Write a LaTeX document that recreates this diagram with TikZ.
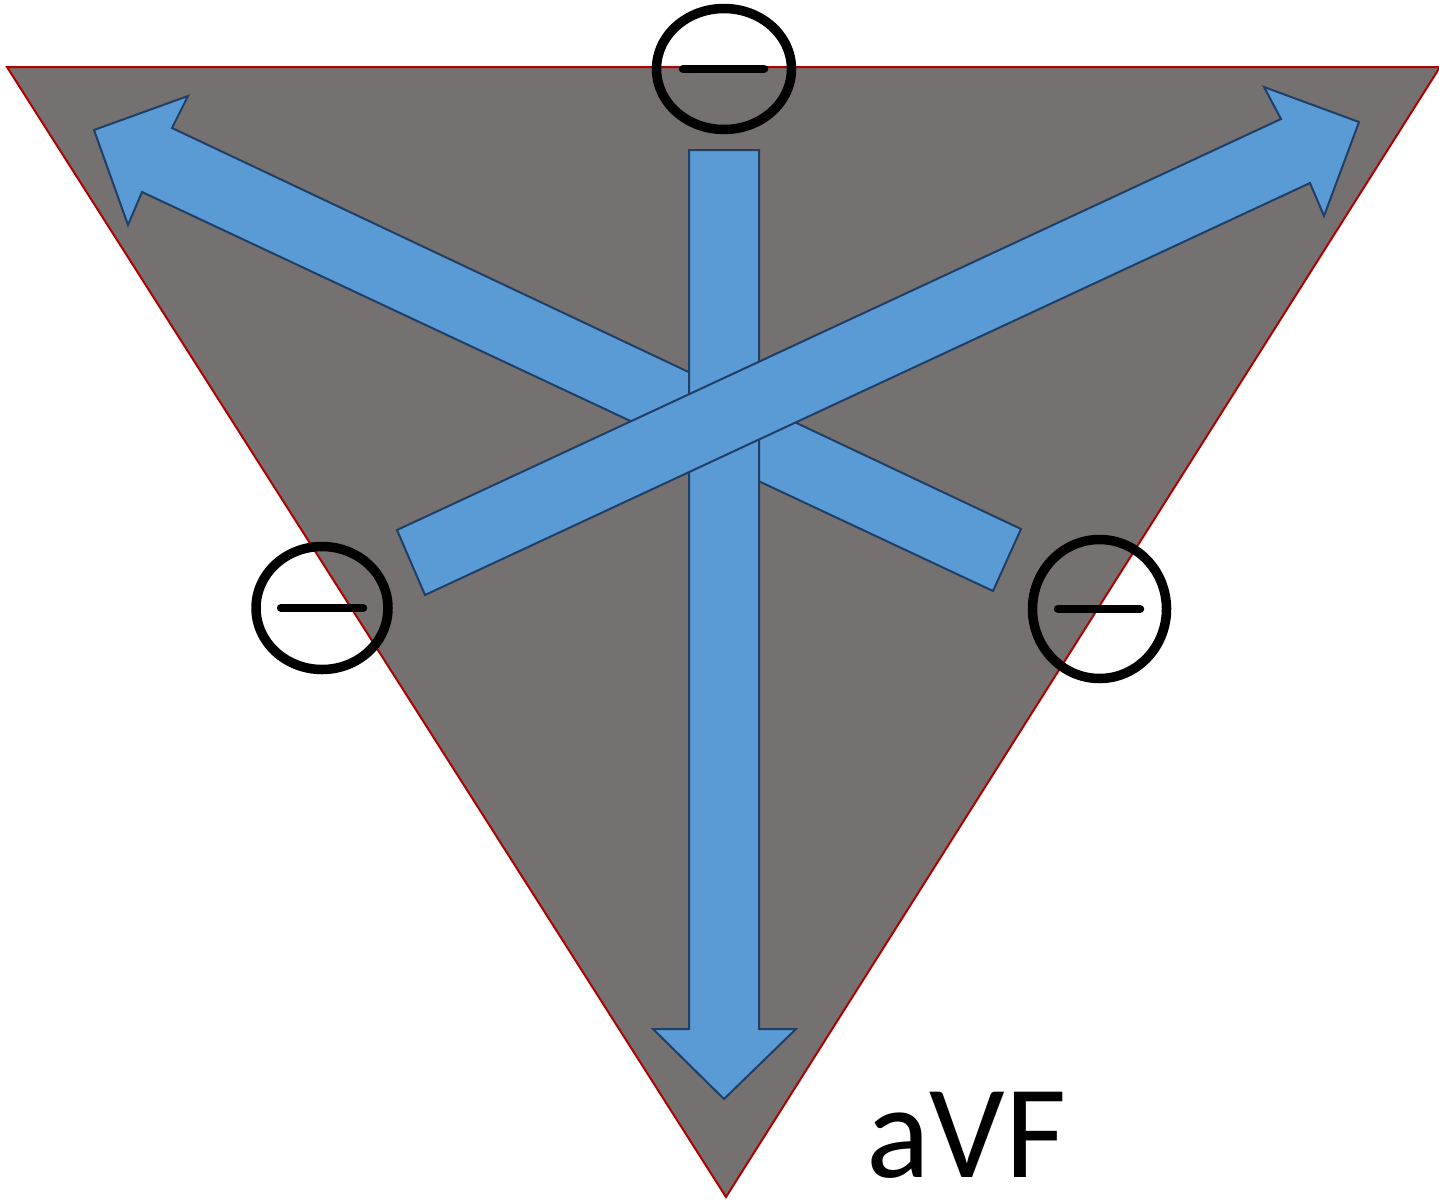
\documentclass[tikz,border=0pt]{standalone}
\usepackage{fontspec}
\setmainfont{Carlito}
\definecolor{trigray}{HTML}{767171}
\definecolor{trired}{HTML}{B00000}
\definecolor{arrblue}{HTML}{5B9BD5}
\definecolor{arredge}{HTML}{1F3F66}
\begin{document}
\begin{tikzpicture}[x=1pt,y=-1pt,
  bluearrow/.style={fill=arrblue,draw=arredge,line width=2pt,line join=miter},
  ring/.style={draw=black,line width=9.5pt},
  minus/.style={draw=black,line width=8.5pt,line cap=round}]
\useasboundingbox (0,0) rectangle (1439,1202);
\fill[white] (0,0) rectangle (1439,1202);
% triangle
\filldraw[fill=trigray,draw=trired,line width=2pt] (7,67) -- (1440,67) -- (726,1197) -- cycle;
% arrow to upper left
\draw[bluearrow] (1021,529) -- (993,591) -- (142,192) -- (128,225) -- (94,130) -- (188,96) -- (172,128) -- cycle;
% vertical arrow
\draw[bluearrow] (689,150) -- (759,150) -- (759,1029) -- (796,1029) -- (724,1099) -- (653,1029) -- (689,1029) -- cycle;
% arrow to upper right
\draw[bluearrow] (397,530) -- (425,595) -- (1310,183) -- (1324,216) -- (1359,122) -- (1264,87) -- (1281,119) -- cycle;
% rings with minus signs
\coordinate (ct) at (724,69);
\coordinate (cl) at (322,608);
\coordinate (cr) at (1099.5,609);
\draw[ring] (ct) ellipse [x radius=67.5, y radius=60.5];
\draw[minus] (683,69) -- (764,69);
\draw[ring] (cl) ellipse [x radius=66, y radius=61.5];
\draw[minus] (281,608) -- (363,608);
\draw[ring] (cr) ellipse [x radius=67, y radius=69.5];
\draw[minus] (1058,609) -- (1140,609);
% label
\node[anchor=base west,inner sep=0pt,text depth=0pt,font=\fontsize{133}{133}\selectfont] (lbl) at (866,1177) {aVF};
\end{tikzpicture}
\end{document}
